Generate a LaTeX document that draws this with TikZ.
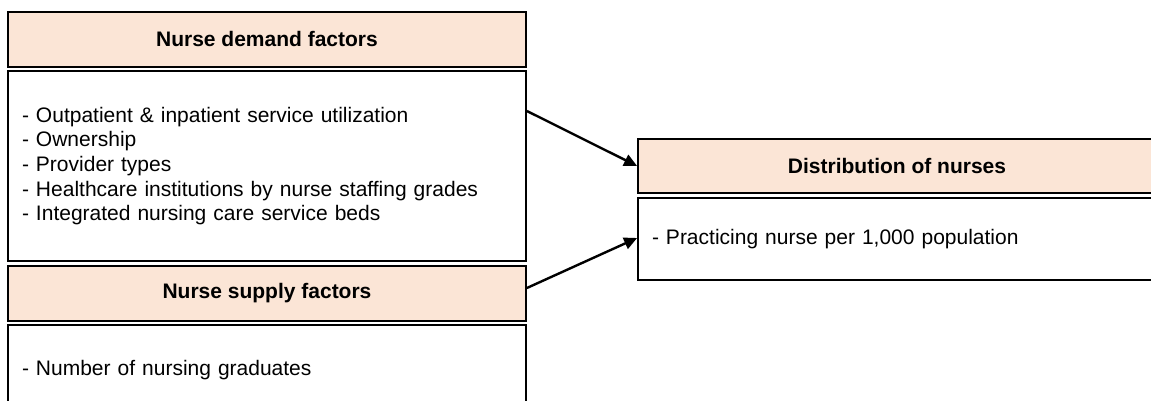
\documentclass[tikz,border=0pt]{standalone}
\usepackage{fontspec}
\setmainfont{Liberation Sans}
\usetikzlibrary{arrows.meta}
\definecolor{peach}{HTML}{FBE5D6}
\tikzset{
  box/.style={draw=black, line width=1.8pt, minimum width=518pt, inner sep=0pt, anchor=center},
  headbox/.style={box, fill=peach, font=\fontsize{21}{24.7}\selectfont\bfseries},
  bodybox/.style={box, fill=white, text width=490pt, inner xsep=14pt, align=left, font=\fontsize{21}{24.7}\selectfont},
  conn/.style={line width=2.4pt, -{Triangle[length=13pt,width=12pt]}}
}
\begin{document}
\begin{tikzpicture}[x=1pt,y=1pt]
\useasboundingbox (0,0) rectangle (1151,401);
\clip (0,0) rectangle (1151,401);
\node[headbox, minimum height=55pt] (dh) at (267,361.5) {Nurse demand factors};
\node[bodybox, minimum height=190pt] (db) at (267,235) {- Outpatient \& inpatient service utilization\\- Ownership\\- Provider types\\- Healthcare institutions by nurse staffing grades\\- Integrated nursing care service beds};
\node[headbox, minimum height=55pt] (sh) at (267,107.5) {Nurse supply factors};
\node[bodybox, minimum height=90pt] (sb) at (267,31) {- Number of nursing graduates};
\node[headbox, minimum height=54pt] (rh) at (897,235) {Distribution of nurses};
\node[bodybox, minimum height=82pt] (rb) at (897,162) {- Practicing nurse per 1,000 population};
\draw[conn] ([yshift=55pt]db.east) -- (rh.west);
\draw[conn] ([yshift=5.5pt]sh.east) -- ([yshift=1pt]rb.west);
\end{tikzpicture}
\end{document}
